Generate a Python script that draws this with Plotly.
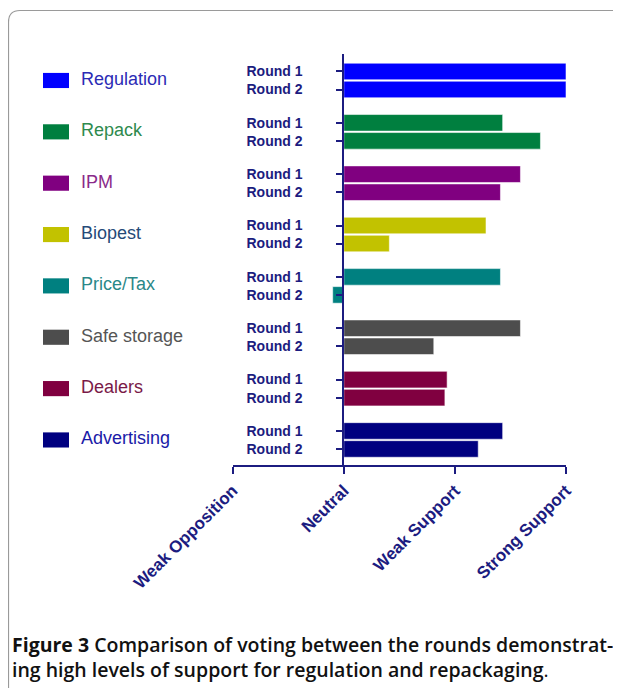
import plotly.graph_objects as go

# ---- data ----
categories = ["Regulation", "Repack", "IPM", "Biopest", "Price/Tax",
              "Safe storage", "Dealers", "Advertising"]
round1 = [2.00, 1.43, 1.59, 1.28, 1.41, 1.59, 0.93, 1.43]
round2 = [2.00, 1.77, 1.41, 0.41, -0.10, 0.81, 0.91, 1.21]
round_labels = ["Round 1", "Round 2"]
x_tick_vals = [-1, 0, 1, 2]
x_tick_text = ["Weak Opposition", "Neutral", "Weak Support", "Strong Support"]

bar_colors = ["#0000ff", "#007f3f", "#800080", "#c2c200", "#008080",
              "#4d4d4d", "#800040", "#000080"]
label_colors = ["#2b2bb5", "#2e8a4e", "#8a2a8a", "#254a78", "#2a8888",
                "#555555", "#7a1a48", "#1a1aa8"]

OFF = 8  # page body margin
W, H = 621 - OFF, 688 - OFF
NAVY = "#1c1c80"
FONT = "Arial, Liberation Sans, sans-serif"

# layout of bars along the category axis (computed from indices)
G = 2.85  # group spacing in bar units
pos1 = [i * G for i in range(len(categories))]
pos2 = [i * G + 1 for i in range(len(categories))]
centers = [i * G + 0.5 for i in range(len(categories))]
tickvals, ticktext = [], []
for a, b in zip(pos1, pos2):
    tickvals += [a, b]
    ticktext += round_labels

def px_x(p):
    return (p - OFF) / W

def px_y(p):
    return 1 - (p - OFF) / H

fig = go.Figure()

fig.add_trace(go.Bar(
    y=pos1, x=round1, orientation="h", width=0.92,
    marker=dict(color=bar_colors, line=dict(color="rgba(255,255,255,0.55)", width=1)),
    name="Round 1", showlegend=False, hoverinfo="x+y"))
fig.add_trace(go.Bar(
    y=pos2, x=round2, orientation="h", width=0.92,
    marker=dict(color=bar_colors, line=dict(color="rgba(255,255,255,0.55)", width=1)),
    name="Round 2", showlegend=False, hoverinfo="x+y"))

# legend drawn in a helper axis (units = page pixels)
leg_right = 225
fig.add_trace(go.Bar(
    y=centers, x=[26] * len(categories), base=43, orientation="h", width=0.84,
    marker=dict(color=bar_colors, line=dict(width=0)),
    xaxis="x2", yaxis="y", showlegend=False, hoverinfo="skip"))
fig.add_trace(go.Scatter(
    y=centers, x=[81] * len(categories), mode="text", text=categories,
    textposition="middle right",
    textfont=dict(color=label_colors, size=18, family=FONT),
    xaxis="x2", yaxis="y", showlegend=False, hoverinfo="skip", cliponaxis=False))

y_top_px, y_bot_px = 54, 465
top_unit = -0.97
bot_unit = 7 * G + 1 + 0.89

fig.update_layout(
    width=W, height=H,
    margin=dict(l=0, r=0, t=0, b=0),
    paper_bgcolor="white", plot_bgcolor="rgba(0,0,0,0)",
    barmode="overlay",
    xaxis=dict(
        domain=[px_x(232.7), px_x(566)], range=[-1, 2], anchor="y",
        tickvals=x_tick_vals, ticktext=x_tick_text, tickangle=-45,
        tickfont=dict(family=FONT, size=17, color=NAVY, weight="bold"),
        ticks="outside", ticklen=7, tickwidth=2, tickcolor=NAVY,
        showline=True, linecolor=NAVY, linewidth=2,
        showgrid=False, zeroline=False, automargin=False, fixedrange=True),
    xaxis2=dict(domain=[0, px_x(leg_right)], range=[OFF, leg_right], anchor="y",
                visible=False, fixedrange=True),
    yaxis=dict(
        domain=[px_y(y_bot_px), px_y(y_top_px)], range=[bot_unit, top_unit],
        anchor="free", position=px_x(343.3), side="left",
        tickvals=tickvals, ticktext=ticktext,
        tickfont=dict(family=FONT, size=14, color=NAVY, weight="bold"),
        ticks="outside", ticklen=6, tickwidth=2, tickcolor=NAVY,
        ticklabelstandoff=31,
        showline=True, linecolor=NAVY, linewidth=2,
        showgrid=False, zeroline=False, automargin=False, fixedrange=True),
    font=dict(family=FONT),
)

# rounded frame
fig.add_shape(type="path", xref="paper", yref="paper",
              path=(f"M {px_x(8.5)},{px_y(700)} L {px_x(8.5)},{px_y(22)} "
                    f"Q {px_x(8.5)},{px_y(10.5)} {px_x(20)},{px_y(10.5)} L {px_x(640)},{px_y(10.5)}"),
              line=dict(color="#9a9a9a", width=1.2))

fig.add_annotation(
    xref="paper", yref="paper", x=px_x(10), y=px_y(629),
    xanchor="left", yanchor="top", align="left", showarrow=False,
    text=("<b>Figure 3</b> Comparison of voting between the rounds demonstrat-<br>"
          "ing high levels of support for regulation and repackaging"
          "<span style='font-weight:normal'>.</span>"),
    font=dict(family="Open Sans, sans-serif", size=19.5, color="#111111", weight=600))

fig.write_html("out.html")
